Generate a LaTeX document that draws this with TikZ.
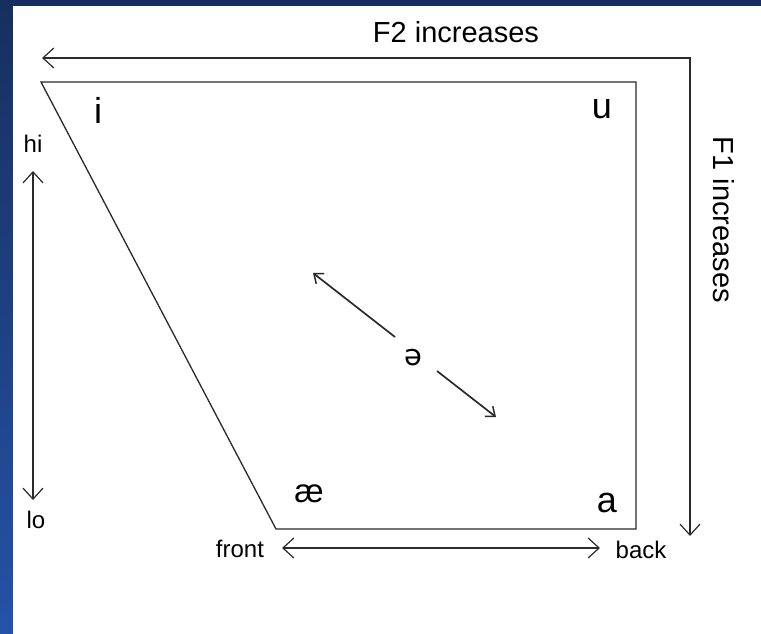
\documentclass[tikz,border=0pt]{standalone}
\usepackage{fontspec}
\setmainfont{Liberation Sans}
\newfontfamily\ipafont{DejaVu Sans}
\usetikzlibrary{arrows.meta}
\definecolor{navytop}{HTML}{172F5E}
\definecolor{navybot}{HTML}{2552A8}
\definecolor{linegray}{HTML}{2A2A2A}
\tikzset{
  bigbarb/.tip={Straight Barb[length=11pt,width=20pt,line width=1.2pt]},
  smallbarb/.tip={Straight Barb[length=8pt,width=13pt,line width=1.5pt]},
}
\begin{document}
\begin{tikzpicture}[x=1pt,y=-1pt,
  ln/.style={draw=linegray, line width=1.3pt},
  axislabel/.style={font=\fontsize{29}{34}\selectfont, inner sep=0pt, anchor=base},
  vowel/.style={font=\fontsize{36}{40}\selectfont, inner sep=0pt, anchor=base},
  small/.style={font=\fontsize{24}{28}\selectfont, inner sep=0pt, anchor=base},
]
\useasboundingbox (0,0) rectangle (761,634);
% background frame
\shade[top color=navytop, bottom color=navybot] (0,0) rectangle (761,634);
\fill[white] (13,6) rectangle (761,634);

% outer F2/F1 arrow
\coordinate (f2tip) at (42,58);
\coordinate (corner) at (690,58);
\coordinate (f1tip) at (690,536);
\draw[ln, bigbarb-bigbarb] (f2tip) -- (corner) -- (f1tip);

% trapezoid
\coordinate (tl) at (41,82);
\coordinate (tr) at (636,82);
\coordinate (br) at (636,529);
\coordinate (bl) at (276,529);
\draw[ln, line join=miter] (tl) -- (tr) -- (br) -- (bl) -- cycle;

% labels
\node[axislabel] (f2) at (456,43) {F2 increases};
\node[axislabel, rotate=-90] (f1) at (713,220) {F1 increases};

\node[vowel] (vi) at (98,123) {i};
\node[vowel] (vu) at (602,118) {u};
\node[vowel, font=\fontsize{33}{38}\selectfont] (vae) at (309,502) {æ};
\node[vowel] (va) at (607,512) {a};
\node[font=\ipafont\fontsize{29}{33}\selectfont, inner sep=0pt, anchor=base] (schwa) at (413,365) {ə};

\node[small] (hi) at (33,152) {hi};
\node[small] (lo) at (36,528) {lo};
\node[small] (front) at (240,557) {front};
\node[small] (back) at (641,558) {back};

% hi-lo arrow
\coordinate (hitip) at (33,171);
\coordinate (lotip) at (33,500);
\draw[ln, bigbarb-bigbarb] (hitip) -- (lotip);

% front-back arrow
\coordinate (fronttip) at (282,548);
\coordinate (backtip) at (600,548);
\draw[ln, bigbarb-bigbarb] (fronttip) -- (backtip);

% schwa arrows
\coordinate (s1a) at (395,337);
\coordinate (s1b) at (313,273);
\coordinate (s2a) at (437,371);
\coordinate (s2b) at (496,417);
\draw[ln, line width=1.7pt, -smallbarb] (s1a) -- (s1b);
\draw[ln, line width=1.7pt, -smallbarb] (s2a) -- (s2b);
\end{tikzpicture}
\end{document}
